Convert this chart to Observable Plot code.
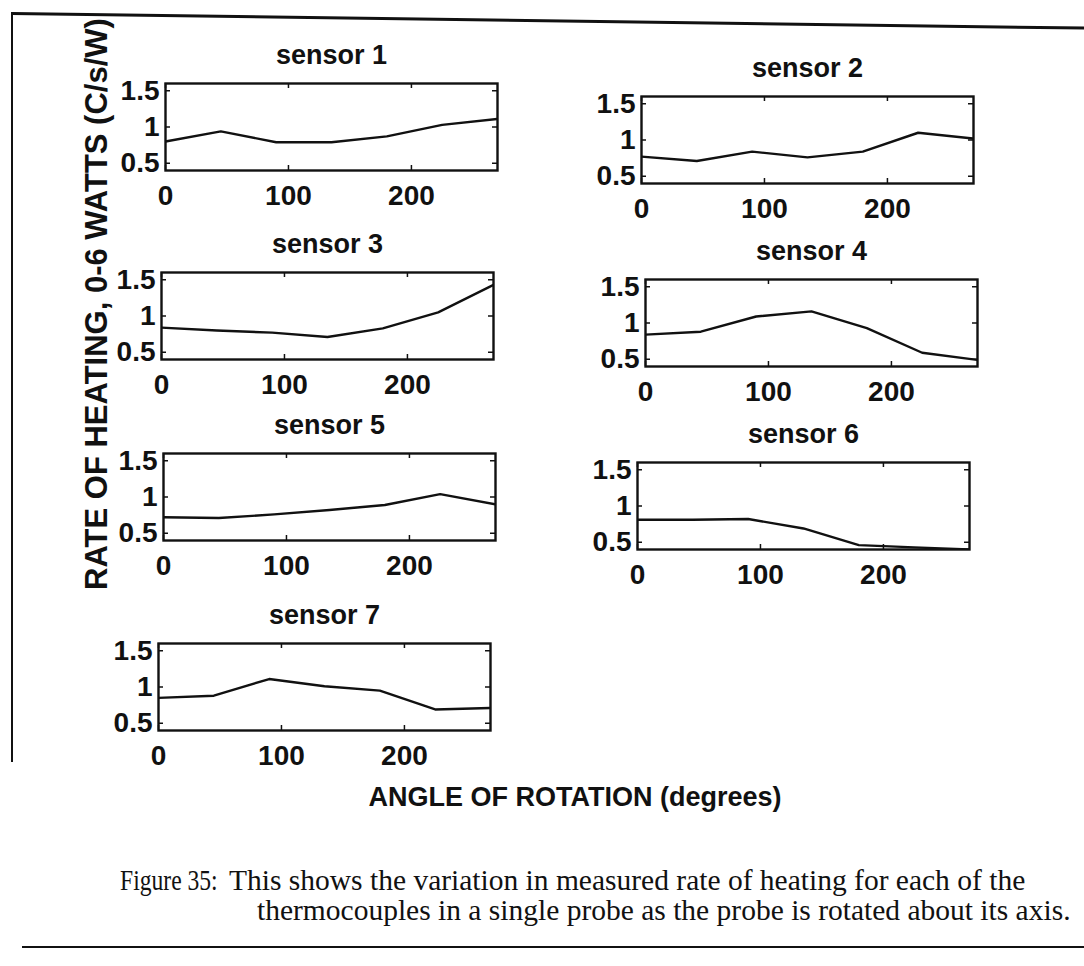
<!DOCTYPE html>
<html>
<head>
<meta charset="utf-8">
<script src="https://cdn.jsdelivr.net/npm/d3@7"></script>
<script src="https://cdn.jsdelivr.net/npm/@observablehq/plot@0.6"></script>
<style>
  html, body { margin: 0; padding: 0; background: #fff; }
  #fig { position: relative; width: 1084px; height: 966px; overflow: hidden; background: #fff; }
  .panel { position: absolute; }
  .ytitle { position: absolute; font-family: "Liberation Sans", Arial, sans-serif; font-weight: bold; font-size: 31px;
            white-space: nowrap; transform-origin: center center; transform: translate(-50%, -50%) rotate(-90deg); color: #111; }
  .xtitle { position: absolute; font-family: "Liberation Sans", Arial, sans-serif; font-weight: bold; font-size: 27px;
            white-space: nowrap; transform: translate(-50%, -50%); color: #111; }
  .cap { position: absolute; font-family: "Liberation Serif", "Times New Roman", serif; font-size: 29.5px; line-height: 30px; white-space: nowrap; color: #111; }
  .rule { position: absolute; background: #111; }
</style>
</head>
<body>
<div id="fig"></div>
<script>
// ---- data ----
const angles = [0, 45, 90, 135, 180, 225, 270];
const sensorNames = ["sensor 1", "sensor 2", "sensor 3", "sensor 4", "sensor 5", "sensor 6", "sensor 7"];
const sensor1 = [0.80, 0.94, 0.79, 0.79, 0.87, 1.03, 1.11];
const sensor2 = [0.77, 0.71, 0.84, 0.76, 0.84, 1.10, 1.02];
const sensor3 = [0.84, 0.80, 0.77, 0.71, 0.83, 1.05, 1.43];
const sensor4 = [0.84, 0.88, 1.09, 1.16, 0.93, 0.59, 0.49];
const sensor5 = [0.72, 0.71, 0.76, 0.82, 0.89, 1.04, 0.90];
const sensor6 = [0.81, 0.81, 0.82, 0.69, 0.46, 0.43, 0.40];
const sensor7 = [0.85, 0.88, 1.11, 1.01, 0.95, 0.69, 0.71];
const sensorValues = [sensor1, sensor2, sensor3, sensor4, sensor5, sensor6, sensor7];
const xTicks = [0, 100, 200];
const yTicks = [0.5, 1, 1.5];
const yTickLabels = ["0.5", "1", "1.5"];
const yTitle = "RATE OF HEATING, 0-6 WATTS (C/s/W)";
const xTitle = "ANGLE OF ROTATION (degrees)";
const captionLabel = "Figure 35:";
const captionLine1 = "This shows the variation in measured rate of heating for each of the";
const captionLine2 = "thermocouples in a single probe as the probe is rotated about its axis.";

// ---- layout (frame positions of each panel, px) ----
const panelLeft = [165, 641, 161, 645, 163, 637, 158];
const panelTop  = [83, 96, 272, 279, 453, 462, 643];
const FW = 332, FH = 87;
const mL = 70, mR = 12, mT = 50, mB = 45;

const fig = document.getElementById("fig");

sensorValues.forEach((vals, i) => {
  const data = angles.map((a, j) => ({angle: a, rate: vals[j]}));
  const chart = Plot.plot({
    width: FW + mL + mR,
    height: FH + mT + mB,
    marginLeft: mL, marginRight: mR, marginTop: mT, marginBottom: mB,
    style: {fontFamily: "'Liberation Sans', Arial, sans-serif", fontSize: "28px", fontWeight: "bold",
            background: "transparent", overflow: "visible", color: "#111"},
    x: {domain: [0, 270], label: null},
    y: {domain: [0.4, 1.6], label: null},
    marks: [
      Plot.ruleX(xTicks, {stroke: "#111", strokeWidth: 1.5, insetTop: FH - 5}),
      Plot.ruleX(xTicks, {stroke: "#111", strokeWidth: 1.5, insetBottom: FH - 5}),
      Plot.ruleY(yTicks, {stroke: "#111", strokeWidth: 1.5, insetRight: FW - 5}),
      Plot.ruleY(yTicks, {stroke: "#111", strokeWidth: 1.5, insetLeft: FW - 5}),
      Plot.line(data, {x: "angle", y: "rate", stroke: "#111", strokeWidth: 2.4, clip: true}),
      Plot.frame({stroke: "#111", strokeWidth: 2.4}),
      Plot.axisX(xTicks, {tickSize: 0, tickPadding: 15, fontSize: 28, fontWeight: "bold"}),
      Plot.axisY(yTicks, {tickSize: 0, tickPadding: 6, fontSize: 28, fontWeight: "bold",
                          tickFormat: d => yTickLabels[yTicks.indexOf(d)]}),
      Plot.text([sensorNames[i]], {text: d => d, frameAnchor: "top", lineAnchor: "middle", dy: -28,
                                   fontSize: 27, fontWeight: "bold"})
    ]
  });
  chart.classList.add("panel");
  chart.style.left = (panelLeft[i] - mL) + "px";
  chart.style.top = (panelTop[i] - mT) + "px";
  fig.appendChild(chart);
});

// axis titles
const yt = document.createElement("div");
yt.className = "ytitle"; yt.textContent = yTitle;
yt.style.left = "97px"; yt.style.top = "304px";
fig.appendChild(yt);

const xt = document.createElement("div");
xt.className = "xtitle"; xt.textContent = xTitle;
xt.style.left = "575px"; xt.style.top = "797px";
fig.appendChild(xt);

// caption
function cap(text, left, top, sx) {
  const d = document.createElement("div");
  d.className = "cap"; d.textContent = text;
  d.style.left = left + "px"; d.style.top = top + "px";
  if (sx) { d.style.transformOrigin = "0 50%"; d.style.transform = `scaleX(${sx})`; }
  fig.appendChild(d);
}
cap(captionLabel, 120, 865, 0.8);
cap(captionLine1, 229, 865);
cap(captionLine2, 257, 895);

// page border lines (scanned figure frame)
function rule(l, t, w, h, rot) {
  const d = document.createElement("div");
  d.className = "rule";
  d.style.left = l + "px"; d.style.top = t + "px"; d.style.width = w + "px"; d.style.height = h + "px";
  if (rot) { d.style.transformOrigin = "0 0"; d.style.transform = `rotate(${rot}deg)`; }
  fig.appendChild(d);
}
rule(12, 12, 1085, 3, 0.78);
rule(11, 12, 2, 750, 0);
rule(22, 946, 1070, 2, 0);
</script>
</body>
</html>
